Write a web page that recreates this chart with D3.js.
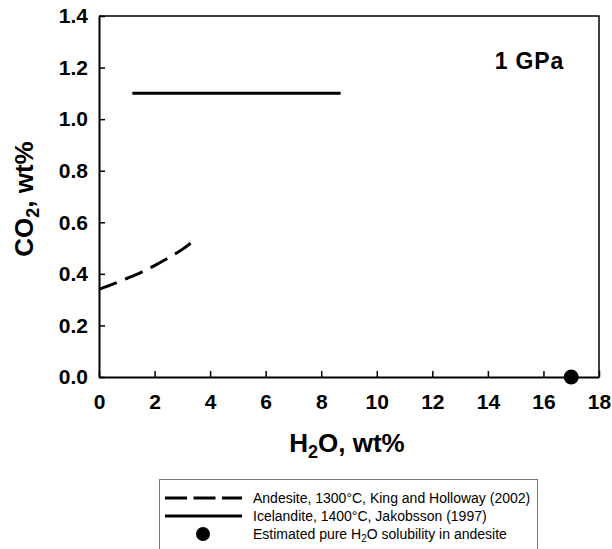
<!DOCTYPE html>
<html>
<head>
<meta charset="utf-8">
<script src="https://cdn.jsdelivr.net/npm/d3@7"></script>
<style>
  body { margin: 0; background: #fff; }
  text { font-family: "Liberation Sans", Arial, sans-serif; }
</style>
</head>
<body>
<div id="chart"></div>
<script>
// Data
var andesiteH2O = [0, 0.5, 1, 1.5, 2, 2.5, 3, 3.43];
var andesiteCO2 = [0.34, 0.36, 0.382, 0.405, 0.432, 0.462, 0.495, 0.53];
var icelanditeH2O = [1.2, 8.7];
var icelanditeCO2 = [1.1, 1.1];
var pureH2O = [17];
var pureCO2 = [0];
var xTicks = [0, 2, 4, 6, 8, 10, 12, 14, 16, 18];
var yTicks = [0, 0.2, 0.4, 0.6, 0.8, 1.0, 1.2, 1.4];
var legendLabels = [
    "Andesite, 1300°C, King and Holloway (2002)",
    "Icelandite, 1400°C, Jakobsson (1997)",
    "Estimated pure H\u2082O solubility in andesite"
];

var w = 612, h = 549;
var mLeft = 99, mRight = 599, mTop = 16, mBottom = 377;

var svg = d3.select("#chart").append("svg")
    .attr("width", w)
    .attr("height", h);

var x = d3.scaleLinear().domain([0, 18]).range([mLeft, mRight]);
var y = d3.scaleLinear().domain([0, 1.4]).range([mBottom, mTop]);

// frame (top and right)
svg.append("path")
    .attr("d", `M${mLeft},${mTop}H${mRight}V${mBottom}`)
    .attr("fill", "none")
    .attr("stroke", "#000")
    .attr("stroke-width", 1.5);

// x axis, ticks pointing inward
var xAxis = svg.append("g")
    .attr("transform", `translate(0,${mBottom})`)
    .call(d3.axisBottom(x).tickValues(xTicks).tickSizeInner(-6).tickSizeOuter(0).tickPadding(17).tickFormat(d3.format("d")));
xAxis.select(".domain").attr("stroke-width", 2);
xAxis.selectAll(".tick line").attr("stroke-width", 1.5);
xAxis.selectAll(".tick text")
    .attr("font-size", 21).attr("font-weight", "bold")
    .style("font-family", "'Liberation Sans', Arial, sans-serif");

// y axis
var yAxis = svg.append("g")
    .attr("transform", `translate(${mLeft},0)`)
    .call(d3.axisLeft(y).tickValues(yTicks).tickSizeInner(-6).tickSizeOuter(0).tickPadding(11).tickFormat(d3.format(".1f")));
yAxis.select(".domain").attr("stroke-width", 2);
yAxis.selectAll(".tick line").attr("stroke-width", 1.5);
yAxis.selectAll(".tick text")
    .attr("font-size", 21).attr("font-weight", "bold")
    .style("font-family", "'Liberation Sans', Arial, sans-serif");

// axis titles
var xt = svg.append("text")
    .attr("x", 347)
    .attr("y", 452)
    .attr("text-anchor", "middle")
    .attr("font-size", 26).attr("font-weight", "bold");
xt.append("tspan").text("H");
xt.append("tspan").attr("font-size", 18).attr("dy", 6).text("2");
xt.append("tspan").attr("dy", -6).text("O, wt%");

var yt = svg.append("text")
    .attr("transform", `translate(33,199) rotate(-90)`)
    .attr("text-anchor", "middle")
    .attr("font-size", 26).attr("font-weight", "bold");
yt.append("tspan").text("CO");
yt.append("tspan").attr("font-size", 18).attr("dy", 6).text("2");
yt.append("tspan").attr("dy", -6).text(", wt%");

svg.append("text")
    .attr("x", 564).attr("y", 69)
    .attr("text-anchor", "end")
    .attr("font-size", 23).attr("font-weight", "bold")
    .attr("letter-spacing", 0.8)
    .text("1 GPa");

// series
var line = d3.line().x(d => x(d[0])).y(d => y(d[1])).curve(d3.curveMonotoneX);

svg.append("path")
    .datum(d3.zip(andesiteH2O, andesiteCO2))
    .attr("d", line)
    .attr("fill", "none")
    .attr("stroke", "#000")
    .attr("stroke-width", 3)
    .attr("stroke-dasharray", "19,9");

svg.append("path")
    .datum(d3.zip(icelanditeH2O, icelanditeCO2))
    .attr("d", line)
    .attr("fill", "none")
    .attr("stroke", "#000")
    .attr("stroke-width", 3);

svg.selectAll("circle.pure")
    .data(d3.zip(pureH2O, pureCO2))
    .join("circle")
    .attr("class", "pure")
    .attr("cx", d => x(d[0]))
    .attr("cy", d => y(d[1]))
    .attr("r", 7.5)
    .attr("fill", "#000");

// legend
var lg = svg.append("g");
lg.append("rect")
    .attr("x", 159.5).attr("y", 479.5)
    .attr("width", 378).attr("height", 80)
    .attr("fill", "#fff")
    .attr("stroke", "#777")
    .attr("stroke-width", 1);

var rows = [498, 516, 534];
lg.append("line").attr("x1", 165).attr("x2", 242).attr("y1", rows[0]).attr("y2", rows[0])
    .attr("stroke", "#000").attr("stroke-width", 3).attr("stroke-dasharray", "22,6.5");
lg.append("line").attr("x1", 165).attr("x2", 242).attr("y1", rows[1]).attr("y2", rows[1])
    .attr("stroke", "#000").attr("stroke-width", 3);
lg.append("circle").attr("cx", 203).attr("cy", rows[2]).attr("r", 7).attr("fill", "#000");

legendLabels.forEach(function(t, i) {
    var tx = lg.append("text")
        .attr("x", 253).attr("y", rows[i] + 5)
        .attr("font-size", 14);
    if (i === 2) {
        tx.append("tspan").text("Estimated pure H");
        tx.append("tspan").attr("font-size", 10).attr("dy", 3).text("2");
        tx.append("tspan").attr("dy", -3).text("O solubility in andesite");
    } else {
        tx.text(t);
    }
});
</script>
</body>
</html>
